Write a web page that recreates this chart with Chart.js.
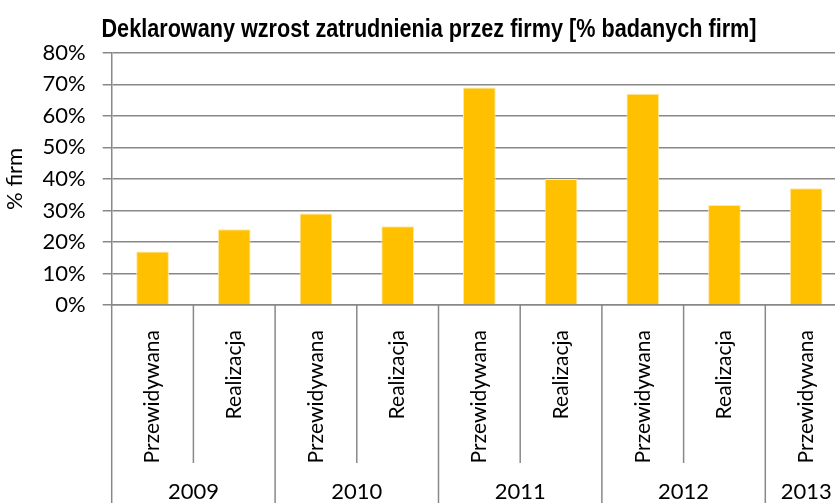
<!DOCTYPE html>
<html>
<head>
<meta charset="utf-8">
<script src="https://cdn.jsdelivr.net/npm/chart.js@4/dist/chart.umd.min.js"></script>
<style>
  html, body { margin: 0; padding: 0; overflow: hidden; background: #fff; }
  #wrap { position: absolute; left: 0; top: 0; width: 858px; height: 503px; }
</style>
</head>
<body>
<div id="wrap"><canvas id="chart" width="858" height="503"></canvas></div>
<script>
const categories = ["Przewidywana", "Realizacja", "Przewidywana", "Realizacja", "Przewidywana",
  "Realizacja", "Przewidywana", "Realizacja", "Przewidywana"];
const categoryYears = ["2009", "2009", "2010", "2010", "2011", "2011", "2012", "2012", "2013"];
const values = [17, 24, 29, 25, 69, 40, 67, 31.7, 37];
const yTicks = [0, 10, 20, 30, 40, 50, 60, 70, 80];
const chartTitle = "Deklarowany wzrost zatrudnienia przez firmy [% badanych firm]";

const GRID = "#888888";
const BAR = "#FFC000";
const LABEL_FONT = "Lato, 'Open Sans', sans-serif";

// the original title is set in a narrow bold face, so squeeze a normal bold one
const narrowTitle = {
  id: "narrowTitle",
  afterDraw(chart) {
    const ctx = chart.ctx;
    ctx.save();
    ctx.font = "bold 25px 'Liberation Sans', Arial, sans-serif";
    ctx.fillStyle = "#000";
    ctx.textAlign = "center";
    ctx.textBaseline = "alphabetic";
    const w = ctx.measureText(chartTitle).width;
    const k = 655 / w;
    ctx.translate(429, 37);
    ctx.scale(k, 1);
    ctx.fillText(chartTitle, 0, 0);
    ctx.restore();
  }
};

// dividers under the x axis and the year row
const yearRows = {
  id: "yearRows",
  afterDraw(chart) {
    const x = chart.scales.x;
    const ctx = chart.ctx;
    const step = x.getPixelForValue(1) - x.getPixelForValue(0);
    const top = x.top;

    ctx.save();
    ctx.strokeStyle = GRID;
    ctx.lineWidth = 1.5;
    for (let i = 0; i <= categories.length; i++) {
      const px = x.getPixelForValue(0) + (i - 0.5) * step;
      const edge = i === 0 || i === categories.length || categoryYears[i] !== categoryYears[i - 1];
      ctx.beginPath();
      ctx.moveTo(px, top);
      ctx.lineTo(px, edge ? chart.height : top + 158);
      ctx.stroke();
    }

    ctx.fillStyle = "#000";
    ctx.font = "22px " + LABEL_FONT;
    ctx.textAlign = "center";
    ctx.textBaseline = "alphabetic";
    let start = 0;
    for (let i = 1; i <= categories.length; i++) {
      if (i === categories.length || categoryYears[i] !== categoryYears[start]) {
        const cx = (x.getPixelForValue(start) + x.getPixelForValue(i - 1)) / 2;
        ctx.fillText(categoryYears[start], cx, 499);
        start = i;
      }
    }
    ctx.restore();
  }
};

new Chart(document.getElementById("chart"), {
  type: "bar",
  data: {
    labels: categories,
    datasets: [{
      data: values,
      backgroundColor: BAR,
      borderColor: "#FFE8A6",
      borderWidth: 1,
      barPercentage: 0.4,
      categoryPercentage: 1
    }]
  },
  options: {
    responsive: false,
    animation: false,
    layout: { padding: { left: 0, right: 11, top: 0, bottom: 0 } },
    plugins: {
      legend: { display: false },
      tooltip: { enabled: false },
      // keeps the space for the title; the text itself is drawn by narrowTitle
      title: {
        display: true,
        text: chartTitle,
        color: "rgba(0,0,0,0)",
        font: { family: "'Liberation Sans', Arial, sans-serif", weight: "bold", size: 24 },
        padding: { top: 12, bottom: 12 }
      }
    },
    scales: {
      x: {
        grid: { display: false },
        border: { display: true, color: GRID, width: 1.5 },
        ticks: {
          color: "#000",
          font: { family: LABEL_FONT, size: 21 },
          minRotation: 90,
          maxRotation: 90,
          autoSkip: false,
          padding: 17
        },
        afterFit(scale) { scale.height = 198; }
      },
      y: {
        min: 0,
        max: 80,
        afterBuildTicks(scale) { scale.ticks = yTicks.map((v) => ({ value: v })); },
        grid: { color: GRID, lineWidth: 1.5, tickLength: 9 },
        border: { color: GRID, width: 1.5 },
        ticks: {
          color: "#000",
          font: { family: LABEL_FONT, size: 22 },
          padding: 17,
          callback: (v) => v + "%"
        },
        title: {
          display: true,
          text: "% firm",
          color: "#000",
          font: { family: LABEL_FONT, size: 22 },
          padding: { top: 2, bottom: 0 }
        },
        afterFit(scale) { scale.width = 111.7; }
      }
    }
  },
  plugins: [yearRows, narrowTitle]
});
</script>
</body>
</html>
